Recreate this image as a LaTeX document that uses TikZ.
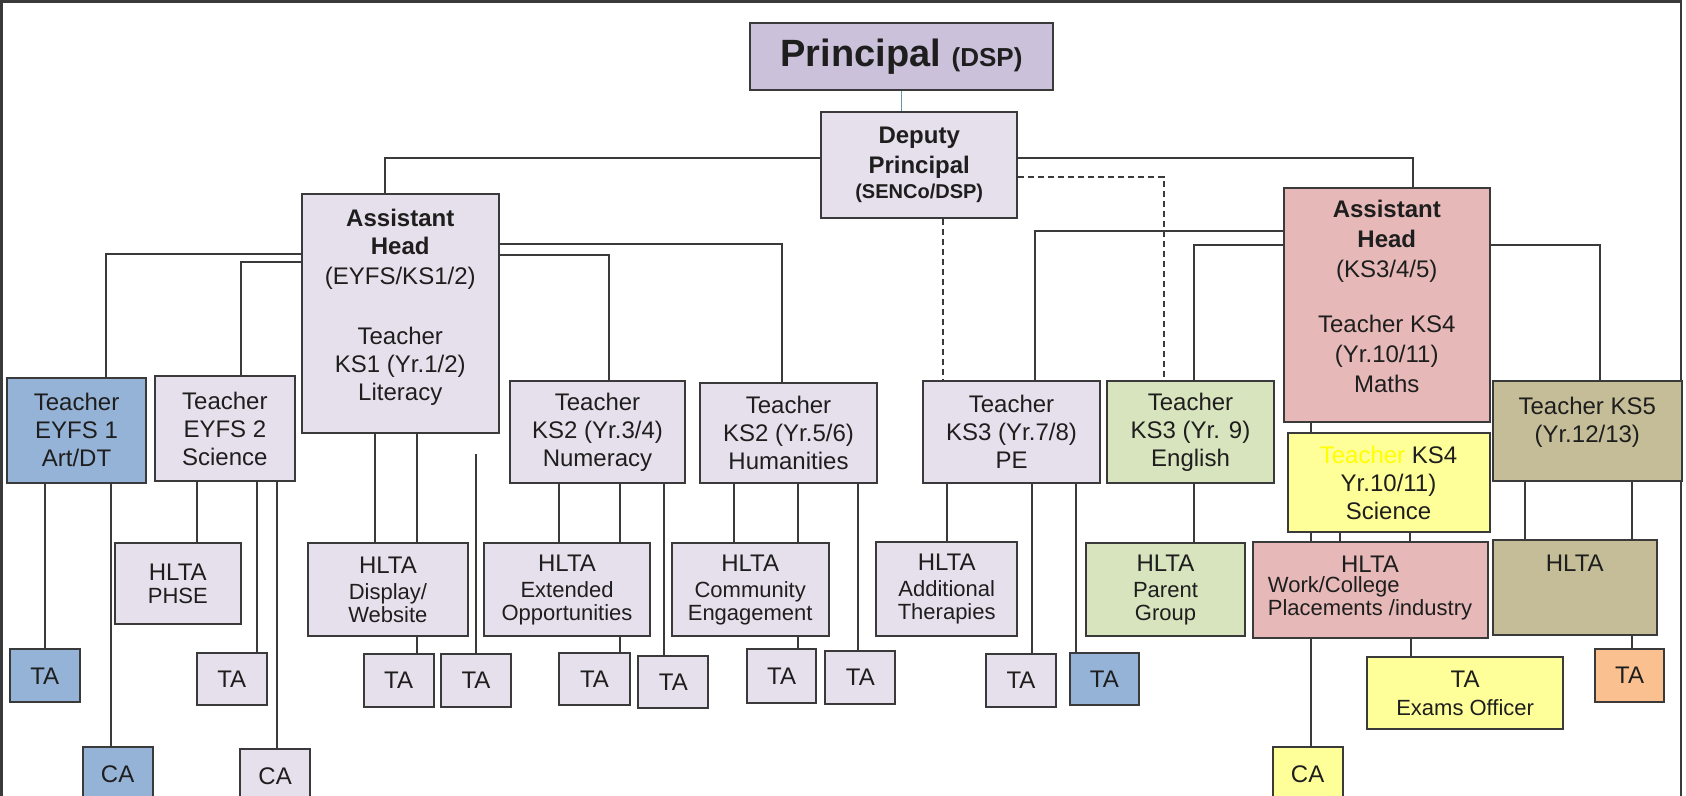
\documentclass[tikz,border=0pt]{standalone}
\usepackage{fontspec}
\setmainfont{Liberation Sans}
\usepackage{xcolor}
\usepackage{tikz}

\definecolor{lav}{HTML}{E6E0EC}
\definecolor{plum}{HTML}{CCC1DA}
\definecolor{sky}{HTML}{95B3D7}
\definecolor{rose}{HTML}{E6B9B8}
\definecolor{sage}{HTML}{D7E4BD}
\definecolor{lemon}{HTML}{FFFF99}
\definecolor{lemonink}{HTML}{FFFF00}
\definecolor{khaki}{HTML}{C4BD97}
\definecolor{peach}{HTML}{FAC090}
\definecolor{edge}{HTML}{3A3A3A}
\definecolor{ink}{HTML}{1E1E1E}
\definecolor{tealine}{HTML}{6A95A8}

\newcommand{\szBig}{\fontsize{38}{42}\selectfont}
\newcommand{\szDsp}{\fontsize{26}{30}\selectfont}
\newcommand{\szTe}{\fontsize{24}{28}\selectfont}
\newcommand{\szAh}{\fontsize{24}{30}\selectfont}
\newcommand{\szDep}{\fontsize{24}{30}\selectfont}
\newcommand{\szSub}{\fontsize{22}{23}\selectfont}
\newcommand{\szSen}{\fontsize{20}{24}\selectfont}

\begin{document}
\begin{tikzpicture}[
  x=1pt, y=-1pt,
  staffbox/.style={rectangle, draw=edge, line width=2pt, fill=lav, text=ink,
                   inner sep=2pt, anchor=north west, align=center, font=\szTe},
  wh/.style 2 args={minimum width=#1pt, minimum height=#2pt},
  hltabox/.style={staffbox, font=\szSub},
  link/.style={draw=edge, line width=2pt},
  dlink/.style={link, dash pattern=on 6pt off 4pt},
]
\useasboundingbox (0,0) rectangle (1686,795);
\clip (0,0) rectangle (1686,795);
\draw[edge, line width=2.4pt] (1.5,1.5) rectangle (1681,830);

% top
\node[staffbox, fill=plum, wh={303}{67.6}, font=\szBig\bfseries] (prin) at (749,21.7) {Principal {\szDsp(DSP)}};
\node[staffbox, wh={196}{106.3}, font=\szDep\bfseries] (dep) at (820.2,111) {Deputy\\Principal\\[-5pt]{\szSen(SENCo/DSP)}};
\node[staffbox, wh={196.5}{239.6}, text height=204.9pt, text depth=30.7pt] (ahp) at (301,192.7) {\textbf{Assistant}\\\textbf{Head}\\[2pt](EYFS/KS1/2)\\[32pt]Teacher\\KS1 (Yr.1/2)\\Literacy};
\node[staffbox, fill=rose, wh={206.5}{234}, font=\szAh, text height=202.6pt, text depth=27.4pt] (ahs) at (1282.5,187) {\textbf{Assistant}\\\textbf{Head}\\(KS3/4/5)\\[25pt]Teacher KS4\\(Yr.10/11)\\Maths};

% teachers
\node[staffbox, fill=sky, wh={139.7}{105}] (eyfsa) at (5.7,376.7) {Teacher\\EYFS 1\\Art/DT};
\node[staffbox, wh={139.3}{105}] (eyfsb) at (154.2,375) {Teacher\\EYFS 2\\Science};
\node[staffbox, wh={175}{101.7}] (kstwoa) at (509,380) {Teacher\\KS2 (Yr.3/4)\\Numeracy};
\node[staffbox, wh={176.4}{100}] (kstwob) at (699.3,381.7) {Teacher\\KS2 (Yr.5/6)\\Humanities};
\node[staffbox, wh={177}{101.7}] (ksthra) at (922,380) {Teacher\\KS3 (Yr.7/8)\\PE};
\node[staffbox, fill=sage, wh={167}{101.7}] (ksthrb) at (1106,380) {Teacher\\KS3 (Yr. 9)\\English};
\node[staffbox, fill=lemon, wh={202}{98.7}] (ksfour) at (1286.5,432.3) {{\color{lemonink}Teacher} KS4\\Yr.10/11)\\Science};
\node[staffbox, fill=khaki, wh={189.5}{100}, text height=59.6pt, text depth=36.4pt] (ksfive) at (1491.5,380) {Teacher KS5\\(Yr.12/13)};

% HLTAs
\node[hltabox, wh={125.6}{80.4}] (phse) at (114,542.3) {{\szTe HLTA}\\PHSE};
\node[hltabox, wh={159.2}{92.7}] (disp) at (307.3,542.3) {{\szTe HLTA}\\[3pt]Display/\\Website};
\node[hltabox, wh={165.3}{92.7}] (extd) at (483.4,542.3) {{\szTe HLTA}\\[3pt]Extended\\Opportunities};
\node[hltabox, wh={157.2}{92.7}] (comm) at (670.6,542.3) {{\szTe HLTA}\\[3pt]Community\\Engagement};
\node[hltabox, wh={140.8}{94.3}] (ther) at (875.3,540.7) {{\szTe HLTA}\\[3pt]Additional\\Therapies};
\node[hltabox, fill=sage, wh={158.9}{92.7}] (prnt) at (1085,542.3) {{\szTe HLTA}\\[3pt]Parent\\Group};
\node[hltabox, fill=rose, wh={235}{96}] (work) at (1251.5,540.5) {{\szTe HLTA}\\[3pt]\begin{tabular}{@{}l@{}}Work/College\\Placements /industry\end{tabular}};
\node[staffbox, fill=khaki, wh={164.5}{95}, text height=29pt, text depth=62pt] (hlfive) at (1491.5,539.3) {HLTA};

% TAs and CAs
\node[staffbox, fill=sky, wh={70}{53}] (taa) at (8.8,648.3) {TA};
\node[staffbox, fill=sky, wh={70}{55}] (caa) at (81.6,746) {CA};
\node[staffbox, wh={69.5}{52.6}] (tab) at (196,651.7) {TA};
\node[staffbox, wh={69.7}{55}] (cab) at (239.3,747.5) {CA};
\node[staffbox, wh={69.7}{52.4}] (tac) at (362.8,653.3) {TA};
\node[staffbox, wh={69.7}{52.4}] (tad) at (440.1,653.3) {TA};
\node[staffbox, wh={70.1}{52.3}] (tae) at (558.4,651.7) {TA};
\node[staffbox, wh={70}{52.3}] (taf) at (637.3,655) {TA};
\node[staffbox, wh={69.2}{53.4}] (tag) at (746,648.3) {TA};
\node[staffbox, wh={70}{52.7}] (tah) at (824.4,650) {TA};
\node[staffbox, wh={69.7}{52.4}] (tai) at (985.1,653.3) {TA};
\node[staffbox, fill=sky, wh={69.6}{52.3}] (taj) at (1068.6,651.7) {TA};
\node[staffbox, fill=lemon, wh={69.8}{55}] (cac) at (1271.7,746) {CA};
\node[staffbox, fill=lemon, wh={195.7}{71.4}] (exams) at (1366.3,656.3) {TA\\{\szSub Exams Officer}};
\node[staffbox, fill=peach, wh={69.3}{52.7}] (tak) at (1594,648.3) {TA};
\coordinate (loose) at ([yshift=199.3pt]tad.north);

% connectors
\draw[link, tealine, line width=1.4pt] (prin.south) -- (prin.south |- dep.north);
\draw[link] ([yshift=6.85pt]dep.west) -| ([xshift=-15pt]ahp.north);
\draw[link] ([yshift=6.85pt]dep.east) -| ([xshift=26pt]ahs.north);
\draw[dlink] ([xshift=24.1pt]dep.south) -- ([xshift=24.1pt]dep.south |- ksthra.north);
\draw[dlink] ([yshift=-11.5pt]dep.east) -| ([xshift=-26.8pt]ksthrb.north);
\draw[link] ([yshift=59.2pt]ahp.west) -| ([xshift=29.65pt]eyfsa.north);
\draw[link] ([yshift=51.8pt]ahp.west) -| ([xshift=16.45pt]eyfsb.north);
\draw[link] ([yshift=69.8pt]ahp.east) -| ([xshift=-6.5pt]kstwob.north);
\draw[link] ([yshift=58.2pt]ahp.east) -| ([xshift=11.5pt]kstwoa.north);
\draw[link] ([yshift=74pt]ahs.west) -| ([xshift=23.5pt]ksthra.north);
\draw[link] ([yshift=59.7pt]ahs.west) -| ([xshift=3pt]ksthrb.north);
\draw[link] ([yshift=59.7pt]ahs.east) -| ([xshift=12.25pt]ksfive.north);
\draw[link] ([xshift=-75.75pt]ahs.south) -- ([xshift=-75.75pt]ahs.south |- ksfour.north);
\draw[link] (taa.north |- eyfsa.south) -- (taa.north);
\draw[link] ([xshift=-7.1pt]caa.north |- eyfsa.south) -- ([xshift=-7.1pt]caa.north);
\draw[link] ([xshift=19.5pt]phse.north |- eyfsb.south) -- ([xshift=19.5pt]phse.north);
\draw[link] ([xshift=25.45pt]tab.north |- eyfsb.south) -- ([xshift=25.45pt]tab.north);
\draw[link] ([xshift=1.95pt]cab.north |- eyfsb.south) -- ([xshift=1.95pt]cab.north);
\draw[link] ([xshift=-13pt]disp.north |- ahp.south) -- ([xshift=-13pt]disp.north);
\draw[link] ([xshift=28.7pt]disp.north |- ahp.south) -- ([xshift=28.7pt]disp.north);
\draw[link] ([xshift=17.95pt]tac.north |- disp.south) -- ([xshift=17.95pt]tac.north);
\draw[link] (loose) -- (tad.north);
\draw[link] ([xshift=-8.45pt]extd.north |- kstwoa.south) -- ([xshift=-8.45pt]extd.north);
\draw[link] ([xshift=53.25pt]extd.north |- kstwoa.south) -- ([xshift=53.25pt]extd.north);
\draw[link] ([xshift=25.85pt]tae.north |- extd.south) -- ([xshift=25.85pt]tae.north);
\draw[link] ([xshift=-9.8pt]taf.north |- kstwoa.south) -- ([xshift=-9.8pt]taf.north);
\draw[link] ([xshift=-15.9pt]comm.north |- kstwob.south) -- ([xshift=-15.9pt]comm.north);
\draw[link] ([xshift=47.6pt]comm.north |- kstwob.south) -- ([xshift=47.6pt]comm.north);
\draw[link] ([xshift=16.2pt]tag.north |- comm.south) -- ([xshift=16.2pt]tag.north);
\draw[link] ([xshift=-2.5pt]tah.north |- kstwob.south) -- ([xshift=-2.5pt]tah.north);
\draw[link] (ther.north |- ksthra.south) -- (ther.north);
\draw[link] ([xshift=11.45pt]tai.north |- ksthra.south) -- ([xshift=11.45pt]tai.north);
\draw[link] ([xshift=-28.4pt]taj.north |- ksthra.south) -- ([xshift=-28.4pt]taj.north);
\draw[link] ([xshift=28.05pt]prnt.north |- ksthrb.south) -- ([xshift=28.05pt]prnt.north);
\draw[link] ([xshift=-59pt]work.north |- ksfour.south) -- ([xshift=-59pt]work.north);
\draw[link] ([xshift=-29.7pt]work.north |- ksfour.south) -- ([xshift=-29.7pt]work.north);
\draw[link] ([xshift=39.7pt]work.north |- ksfour.south) -- ([xshift=39.7pt]work.north);
\draw[link] ([xshift=3.4pt]cac.north |- work.south) -- ([xshift=3.4pt]cac.north);
\draw[link] ([xshift=-54.15pt]exams.north |- work.south) -- ([xshift=-54.15pt]exams.north);
\draw[link] ([xshift=-49.45pt]hlfive.north |- ksfive.south) -- ([xshift=-49.45pt]hlfive.north);
\draw[link] ([xshift=57.25pt]hlfive.north |- ksfive.south) -- ([xshift=57.25pt]hlfive.north);
\draw[link] ([xshift=2.35pt]tak.north |- hlfive.south) -- ([xshift=2.35pt]tak.north);
\end{tikzpicture}
\end{document}
